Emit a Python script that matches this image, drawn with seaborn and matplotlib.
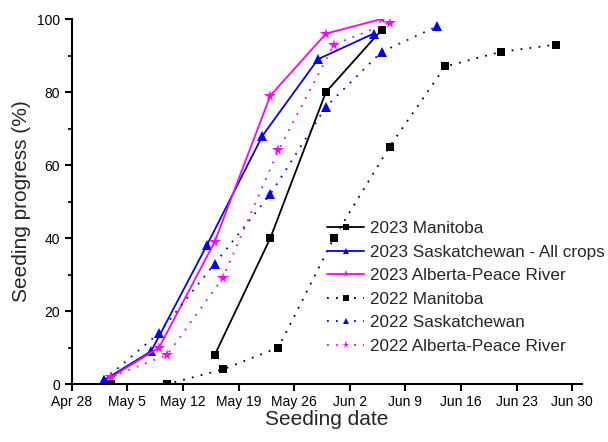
import pandas as pd
import seaborn as sns
import matplotlib
matplotlib.use("Agg")
import matplotlib.pyplot as plt
import matplotlib.dates as mdates
from matplotlib.ticker import MultipleLocator

# ---------------- Data ----------------
mb23_dates = ["05-16", "05-23", "05-30", "06-06"]
mb23_vals = [8, 40, 80, 97]

sk23_dates = ["05-02", "05-08", "05-15", "05-22", "05-29", "06-05"]
sk23_vals = [1, 9, 38, 68, 89, 96]

ab23_dates = ["05-03", "05-09", "05-16", "05-23", "05-30", "06-06"]
ab23_vals = [2, 10, 39, 79, 96, 100]

mb22_dates = ["05-03", "05-10", "05-17", "05-24", "05-31", "06-07", "06-14", "06-21", "06-28"]
mb22_vals = [0, 0, 4, 10, 40, 65, 87, 91, 93]

sk22_dates = ["05-02", "05-09", "05-16", "05-23", "05-30", "06-06", "06-13"]
sk22_vals = [1, 14, 33, 52, 76, 91, 98]

ab22_dates = ["05-03", "05-10", "05-17", "05-24", "05-31", "06-07"]
ab22_vals = [2, 8, 29, 64, 93, 99]

tick_start = "2023-04-28"

DOT = (0, (1, 4))
series = [
    ("2023 Manitoba", mb23_dates, mb23_vals, "black", "s", "-", 6),
    ("2023 Saskatchewan - All crops", sk23_dates, sk23_vals, "#0000ff", "^", "-", 7),
    ("2023 Alberta-Peace River", ab23_dates, ab23_vals, "#ff00ff", "*", "-", 8.5),
    ("2022 Manitoba", mb22_dates, mb22_vals, "black", "s", DOT, 6),
    ("2022 Saskatchewan", sk22_dates, sk22_vals, "#0000ff", "^", DOT, 7),
    ("2022 Alberta-Peace River", ab22_dates, ab22_vals, "#ff00ff", "*", DOT, 8.5),
]

# ---------------- Plot ----------------
sns.set_style("ticks")
plt.rcParams["font.family"] = ["Liberation Sans", "DejaVu Sans"]

fig = plt.figure(figsize=(6.08, 4.42), dpi=100)
ax = fig.add_axes([0.118, 0.131, 0.839, 0.826])

for label, dates, vals, color, marker, ls, ms in series:
    df = pd.DataFrame({"date": pd.to_datetime(["2023-" + d for d in dates]), "value": vals})
    sns.lineplot(data=df, x="date", y="value", ax=ax, color=color, marker=marker,
                 linestyle=ls, linewidth=1.3, markersize=ms, markeredgewidth=0,
                 label=label)

ticks = pd.date_range(tick_start, periods=10, freq="7D")
ax.set_xticks(ticks)
ax.xaxis.set_major_formatter(mdates.DateFormatter("%b %-d"))
ax.set_xlim(pd.Timestamp("2023-04-28"), pd.Timestamp("2023-07-01 05:00"))
ax.set_ylim(0, 100)
ax.yaxis.set_major_locator(MultipleLocator(20))
ax.yaxis.set_minor_locator(MultipleLocator(10))

for side in ["top", "right"]:
    ax.spines[side].set_visible(False)
for side in ["left", "bottom"]:
    ax.spines[side].set_linewidth(1.5)
    ax.spines[side].set_color("black")
ax.tick_params(which="major", direction="out", length=5, width=1.5, labelsize=10, colors="black")
ax.tick_params(axis="x", which="major", pad=2.5)
ax.tick_params(which="minor", direction="out", length=3, width=1.5)

ax.set_xlabel("Seeding date", fontsize=15, labelpad=1)
ax.set_ylabel("Seeding progress (%)", fontsize=15)

leg = ax.legend(loc="center left", bbox_to_anchor=(0.47, 0.265), frameon=False,
                fontsize=12.3, handlelength=2.2, handletextpad=0.3, labelspacing=0.5,
                markerscale=0.65)

fig.savefig("out.png", dpi=100)
